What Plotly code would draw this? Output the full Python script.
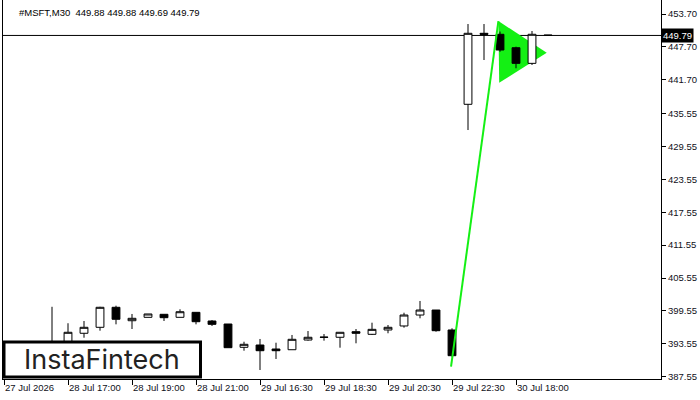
import plotly.graph_objects as go

# ---- data (M30 candles, index = bar number) ----
bar_index = list(range(35))
opens = [None, None, None, 392.5, 393.9, 395.47, 396.56, 400.21, 397.76, 398.38,
         398.93, 398.38, 399.29, 397.71, 397.16, 392.91, 393.33, 392.60, 392.47, 394.24,
         394.72, 394.74, 395.76, 395.28, 396.07, 396.80, 398.80, 399.71, 396.07, 437.23,
         450.18, 450.00, 447.55, 444.70, 449.88]
highs = [None, None, None, 400.3, 397.3, 397.71, 400.30, 400.50, 398.99, 398.99,
         398.93, 399.84, 399.29, 397.89, 397.16, 393.93, 394.43, 393.75, 395.16, 395.88,
         395.33, 395.65, 396.25, 397.40, 396.98, 399.22, 401.36, 399.71, 396.38, 451.87,
         451.87, 450.50, 447.74, 450.60, 449.88]
lows = [None, None, None, 391.5, 393.6, 394.66, 395.94, 397.10, 396.25, 398.38,
        397.71, 398.38, 397.10, 396.80, 392.84, 392.29, 388.77, 390.78, 392.47, 394.12,
        394.12, 392.84, 393.64, 395.16, 395.47, 396.49, 398.20, 395.76, 391.20, 432.54,
        445.31, 446.82, 443.80, 444.40, 449.69]
closes = [None, None, None, 393.0, 395.65, 396.56, 400.21, 398.02, 398.20, 398.99,
          398.31, 399.40, 397.58, 397.10, 392.84, 393.46, 392.29, 392.29, 394.37, 394.74,
          394.76, 395.65, 395.47, 396.19, 396.56, 398.80, 399.71, 395.94, 391.38, 450.18,
          449.99, 447.13, 444.70, 450.00, 449.79]

tick_index = [0, 4, 8, 12, 16, 20, 24, 28, 32]
tick_text = ["27 Jul 2026", "28 Jul 17:00", "28 Jul 19:00", "28 Jul 21:00", "29 Jul 16:30",
             "29 Jul 18:30", "29 Jul 20:30", "29 Jul 22:30", "30 Jul 18:00"]
price_ticks = [387.55, 393.55, 399.55, 405.55, 411.55, 417.55, 423.55, 429.55,
               435.55, 441.70, 447.70, 453.70]
last_price = 449.79
header = "#MSFT,M30  449.88 449.88 449.69 449.79"

# bullish pennant pattern
pole_x = [27.94, 30.9]
pole_y = [389.37, 452.42]
pennant_x = [30.9, 30.95, 33.92]
pennant_y = [452.42, 441.17, 446.64]

# ---- layout geometry (pixels) ----
W, H = 700, 400
L, R, T, B = 3, 661, 0, 379
PX_PER_BAR = 16.0
X0_PX = 4.0
PX_PER_UNIT = 5.483
REF_PRICE, REF_PY = 387.55, 376.7

x_range = [(L - X0_PX) / PX_PER_BAR, (R - X0_PX) / PX_PER_BAR]
y_range = [REF_PRICE - (B - REF_PY) / PX_PER_UNIT, REF_PRICE + (REF_PY - T) / PX_PER_UNIT]


def px(xp):
    return (xp - L) / (R - L)


def py(yp):
    return (B - yp) / (B - T)


GREEN = "#14f014"
FONT = "Liberation Sans"

fig = go.Figure()

fig.add_trace(go.Candlestick(
    x=bar_index, open=opens, high=highs, low=lows, close=closes,
    increasing=dict(fillcolor="white", line=dict(color="black", width=1)),
    decreasing=dict(fillcolor="black", line=dict(color="black", width=1)),
    whiskerwidth=0, showlegend=False, hoverinfo="skip",
))

fig.add_trace(go.Scatter(
    x=pole_x, y=pole_y, mode="lines",
    line=dict(color=GREEN, width=2), showlegend=False, hoverinfo="skip",
))

path = "M {} {} L {} {} L {} {} Z".format(pennant_x[0], pennant_y[0], pennant_x[1], pennant_y[1],
                                          pennant_x[2], pennant_y[2])
shapes = [
    dict(type="path", path=path, xref="x", yref="y", fillcolor=GREEN,
         line=dict(color=GREEN, width=0), layer="below"),
    dict(type="line", xref="paper", x0=0, x1=1, yref="y", y0=last_price, y1=last_price,
         line=dict(color="black", width=1), layer="below"),
    # logo box
    dict(type="rect", xref="paper", yref="paper", x0=px(4), x1=px(200.5), y0=py(377), y1=py(342),
         fillcolor="white", line=dict(color="black", width=3), layer="above"),
]

annotations = [
    dict(text=header, xref="paper", yref="paper", x=px(17), y=py(12), xanchor="left",
         yanchor="middle", showarrow=False, font=dict(family=FONT, size=9.5, color="black")),
    dict(text="InstaFintech", xref="paper", yref="paper", x=px(102), y=py(359.5),
         xanchor="center", yanchor="middle", showarrow=False,
         font=dict(family="Inter", size=27, color="#222222")),
    dict(text=f"{last_price:.2f}", xref="paper", yref="y", x=1, y=last_price, xanchor="left",
         yanchor="middle", showarrow=False, bgcolor="black", borderpad=1, xshift=0,
         font=dict(family=FONT, size=9.5, color="white")),
]

fig.update_layout(
    width=W, height=H,
    margin=dict(l=L, r=W - R, t=T, b=H - B, autoexpand=False),
    paper_bgcolor="white", plot_bgcolor="white",
    shapes=shapes, annotations=annotations,
    boxgap=0.3,
    xaxis=dict(range=x_range, tickmode="array", tickvals=tick_index, ticktext=tick_text,
               showgrid=False, zeroline=False, showline=True, linecolor="black", linewidth=1,
               ticks="outside", ticklen=5, tickcolor="black", ticklabelposition="outside right",
               tickfont=dict(family=FONT, size=9.5, color="#101020"),
               rangeslider=dict(visible=False), fixedrange=True),
    yaxis=dict(range=y_range, side="right", tickmode="array", tickvals=price_ticks,
               ticktext=[f"{v:.2f}" for v in price_ticks],
               showgrid=False, zeroline=False, showline=True, linecolor="black", linewidth=1,
               mirror=True, ticks="outside", ticklen=4, tickcolor="black",
               tickfont=dict(family=FONT, size=9.5, color="#101020"), fixedrange=True),
)

fig.write_html("out.html", config={"displayModeBar": False},
               post_script="document.body.style.margin='0';document.body.style.padding='0';")
